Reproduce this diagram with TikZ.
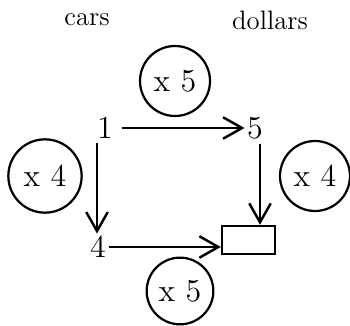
\documentclass[tikz,border=0pt]{standalone}
\usepackage{tikz}
\usetikzlibrary{positioning,arrows.meta}

\begin{document}
\begin{tikzpicture}[x=0.45pt, y=0.45pt,
  ring/.style={draw, circle, line width=1pt, inner sep=0pt, font=\Large},
  num/.style={inner sep=1pt, font=\Large},
  arr/.style={line width=1.1pt, -{Straight Barb[length=3mm, width=3.4mm]}}]
\useasboundingbox (0,0) rectangle (350,326);
\node[font=\large] (cars) at (87,306) {cars};
\node[font=\large] (dollars) at (270,306) {dollars};
\node[ring, minimum size=31.5pt] (tfive) at (175,245) {x 5};
\node[num] (one) at (105,198) {1};
\node[num] (five) at (255,198) {5};
\node[ring, minimum size=33pt] (lfour) at (45,150) {x 4};
\node[ring, minimum size=31.5pt] (rfour) at (315,150) {x 4};
\node[num] (four) at (98,79) {4};
\node[draw, line width=1.1pt, minimum width=23.8pt, minimum height=12.6pt, inner sep=0pt] (box) at (248.5,86) {};
\node[ring, minimum size=30pt] (bfive) at (180,35) {x 5};
\draw[arr] (one.east) ++(6,0) coordinate (a) -- (five.west);
\draw[arr] (one.south) ++(-8,-2) coordinate (b) -- (four.north -| b);
\draw[arr] (five.south) ++(5,-2) coordinate (c) -- (box.north -| c);
\draw[arr] (four.east) -- (box.west |- four.east);
\end{tikzpicture}
\end{document}
